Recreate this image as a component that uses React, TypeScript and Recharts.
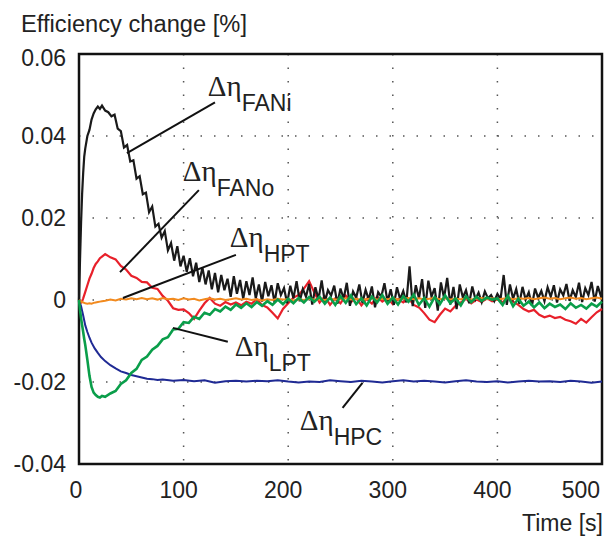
import React from "react";
import {
  LineChart, Line, XAxis, YAxis, CartesianGrid,
  ReferenceLine, ReferenceDot, ReferenceArea,
} from "recharts";

const FONT = "'Liberation Sans', Arial, sans-serif";
const SERIF = "'Liberation Serif', 'Times New Roman', serif";

// time axis for the red / orange / green traces [s]
const tNoisy = [
  0, 1, 2, 3, 4, 5, 6, 8, 10, 12, 14, 16, 18, 20, 22,
  25, 30, 35, 40, 45, 50, 55, 60, 65, 70,
  75, 80, 85, 90, 95, 100, 105, 110, 115, 120,
  125, 130, 135, 140, 145, 150, 155, 160, 165, 170,
  175, 180, 185, 190, 195, 200, 205, 210, 215, 220,
  225, 230, 235, 240, 245, 250, 255, 260, 265, 270,
  275, 280, 285, 290, 295, 300, 305, 310, 315, 320,
  325, 330, 335, 340, 345, 350, 355, 360, 365, 370,
  375, 380, 385, 390, 395, 400, 405, 410, 415, 420,
  425, 430, 435, 440, 445, 450, 455, 460, 465, 470,
  475, 480, 485, 490, 495, 500,
];

// FANi is the noisiest trace, sampled more densely
const tFani = [
  0, 1, 2, 3, 4, 5, 6, 8, 10, 12, 14, 16, 18, 20, 22,
  25, 28, 31, 34, 37, 40, 43, 46, 49, 52, 55, 58, 61, 64, 67, 70,
  73, 76, 79, 82, 85, 88, 91, 94, 97, 100, 103, 106, 109, 112, 115, 118,
  121, 124, 127, 130, 133, 136, 139, 142, 145, 148, 151, 154, 157, 160,
  163, 166, 169, 172, 175, 178, 181, 184, 187, 190, 193, 196, 199, 202,
  205, 208, 211, 214, 217, 220, 223, 226, 229, 232, 235, 238, 241, 244,
  247, 250, 253, 256, 259, 262, 265, 268, 271, 274, 277, 280, 283, 286,
  289, 292, 295, 298, 301, 304, 307, 310, 313, 316, 319, 322, 325, 328,
  331, 334, 337, 340, 343, 346, 349, 352, 355, 358, 361, 364, 367, 370,
  373, 376, 379, 382, 385, 388, 391, 394, 397, 400, 403, 406, 409, 412,
  415, 418, 421, 424, 427, 430, 433, 436, 439, 442, 445, 448, 451, 454,
  457, 460, 463, 466, 469, 472, 475, 478, 481, 484, 487, 490, 493, 496,
  499, 500,
];

const fani = [
  0, 0.010, 0.019, 0.026, 0.031, 0.035, 0.037, 0.040, 0.0415, 0.044, 0.0455, 0.0465, 0.0472, 0.0466, 0.0474,
  0.0462, 0.0458, 0.0448, 0.0452, 0.0418, 0.0412, 0.0372, 0.0378, 0.0338, 0.0341, 0.0296, 0.0302, 0.0258, 0.0262, 0.0214, 0.0228,
  0.0179, 0.0186, 0.0152, 0.0168, 0.0121, 0.0139, 0.0096, 0.0131, 0.0082, 0.0108, 0.0069, 0.0102, 0.0058, 0.0091, 0.0044, 0.0079,
  0.0038, 0.0072, 0.0026, 0.0066, 0.0019, 0.0061, 0.0024, 0.0052, 0.0008, 0.0058, 0.0015, 0.0049, 0.0003, 0.0046,
  0.0012, 0.0055, 0.0004, 0.0038, -0.0004, 0.0044, 0.0009, 0.0036, -0.0006, 0.0041, 0.0012, 0.0029, -0.0008, 0.0035,
  0.0004, 0.0046, -0.0003, 0.0027, 0.0008, 0.0039, -0.0011, 0.0031, 0.0002, 0.0048, -0.0005, 0.0024, 0.0011, 0.0035,
  -0.0009, 0.0028, 0.0003, 0.0042, -0.0014, 0.0021, 0.0006, 0.0038, -0.0007, 0.0025, 0.0001, 0.0033, -0.0018, 0.0019,
  0.0008, 0.0041, -0.0004, 0.0026, -0.0012, 0.0031, 0.0002, 0.0022, -0.0006, 0.0082, -0.0015, 0.0036, 0.0004, 0.0051,
  -0.0019, 0.0047, 0.0008, 0.0029, -0.0026, 0.0043, 0.0005, 0.0054, -0.0011, 0.0032, -0.0022, 0.0038, 0.0006, 0.0024,
  -0.0008, 0.0033, 0.0002, 0.0018, -0.0005, 0.0021, 0.0004, 0.0012, -0.0003, 0.0015, 0.0002, 0.0061, -0.0012, 0.0038,
  0.0003, 0.0027, -0.0009, 0.0032, 0.0001, 0.0019, -0.0014, 0.0028, 0.0005, 0.0022, -0.0003, 0.0031, 0.0008, 0.0036,
  -0.0006, 0.0026, 0.0011, 0.0039, -0.0002, 0.0024, 0.0007, 0.0042, -0.0005, 0.0029, 0.0012, 0.0044, -0.0004, 0.0034,
  0.0009, 0.0021,
];

const fano = [
  0, -0.0004, -0.0006, -0.0003, 0.0004, 0.0012, 0.002, 0.0036, 0.0052, 0.0064, 0.0078, 0.0088, 0.0094, 0.0102, 0.0106,
  0.0112, 0.0104, 0.0099, 0.0083, 0.0074, 0.0059, 0.0054, 0.0044, 0.0043, 0.0030,
  0.0027, 0.0010, -0.0002, -0.0020, -0.0024, -0.0023, -0.0032, -0.0046, -0.0026, -0.0008,
  0.0005, -0.0009, -0.0014, -0.0005, -0.0011, -0.0006, -0.0013, -0.0004, -0.0009, 0.0002,
  -0.0012, -0.0018, -0.0031, -0.0045, -0.0022, -0.0008, 0.0006, 0.0012, 0.0028, 0.0046,
  0.0018, -0.0006, 0.0009, -0.0012, 0.0004, -0.0008, 0.0011, -0.0005, 0.0006, -0.0013,
  0.0003, -0.0009, 0.0008, -0.0004, 0.0005, -0.0010, 0.0002, -0.0006, 0.0004, -0.0012,
  -0.0018, -0.0032, -0.0048, -0.0054, -0.0036, -0.0021, -0.0028, -0.0014, -0.0006, 0.0003,
  -0.0008, 0.0001, -0.0005, 0.0004, -0.0003, 0.0002, -0.0006, 0.0008, -0.0004, -0.0012,
  -0.0022, -0.0028, -0.0024, -0.0036, -0.0042, -0.0038, -0.0044, -0.0041, -0.0048, -0.0052,
  -0.0058, -0.0046, -0.0055, -0.0042, -0.0030, -0.0022,
];

const hpt = [
  0, -0.0002, -0.0003, -0.0005, -0.0006, -0.0007, -0.0008, -0.0009, -0.0008, -0.0009, -0.0007, -0.0006, -0.0005, -0.0004, -0.0003,
  -0.0002, 0.0001, -0.0001, 0.0003, 0.0001, 0.0004, 0.0002, 0.0005, 0.0002, 0.0004,
  0.0001, 0.0005, 0.0002, 0.0003, 0.0000, 0.0004, 0.0001, 0.0003, -0.0001, 0.0002,
  0.0004, 0.0001, 0.0003, 0.0000, 0.0002, 0.0004, 0.0001, 0.0003, 0.0000, 0.0002,
  -0.0001, 0.0002, 0.0000, 0.0003, 0.0001, 0.0002, -0.0001, 0.0002, 0.0000, 0.0003,
  0.0001, 0.0002, 0.0000, 0.0003, 0.0001, 0.0002, 0.0004, 0.0001, 0.0003, 0.0000,
  0.0002, 0.0004, 0.0001, 0.0003, 0.0002, 0.0004, 0.0001, 0.0003, 0.0005, 0.0002,
  0.0004, 0.0001, 0.0003, 0.0005, 0.0002, 0.0004, 0.0001, 0.0003, 0.0002, 0.0004,
  0.0001, 0.0003, 0.0005, 0.0002, 0.0004, 0.0001, 0.0003, 0.0005, 0.0002, 0.0004,
  0.0003, 0.0005, 0.0002, 0.0004, 0.0006, 0.0003, 0.0005, 0.0002, 0.0004, 0.0006,
  0.0003, 0.0005, 0.0002, 0.0004, 0.0006, 0.0003,
];

const lpt = [
  0, -0.0025, -0.0045, -0.0062, -0.0078, -0.0095, -0.011, -0.0146, -0.0185, -0.0212, -0.0226, -0.0232, -0.0236, -0.0238, -0.0234,
  -0.0236, -0.0228, -0.0222, -0.0205, -0.0196, -0.0178, -0.0168, -0.0146, -0.0138, -0.0121,
  -0.0112, -0.0096, -0.0091, -0.0072, -0.0070, -0.0054, -0.0056, -0.0041, -0.0046, -0.0031,
  -0.0036, -0.0022, -0.0028, -0.0016, -0.0024, -0.0011, -0.0019, -0.0008, -0.0017, -0.0005,
  -0.0014, -0.0003, -0.0012, 0.0001, -0.0010, 0.0003, -0.0008, 0.0005, -0.0006, 0.0007,
  -0.0004, 0.0008, -0.0009, 0.0006, -0.0012, 0.0009, -0.0007, 0.0011, -0.0010, 0.0004,
  -0.0013, 0.0008, -0.0006, 0.0012, -0.0009, 0.0006, -0.0011, 0.0009, -0.0004, 0.0013,
  -0.0012, 0.0005, -0.0016, 0.0007, -0.0010, 0.0011, -0.0008, 0.0004, -0.0013, 0.0009,
  -0.0005, 0.0008, -0.0002, 0.0006, 0.0001, 0.0004, -0.0012, 0.0010, -0.0015, 0.0003,
  -0.0014, -0.0004, -0.0018, -0.0006, -0.0020, -0.0009, -0.0017, -0.0011, -0.0022, -0.0008,
  -0.0019, -0.0012, -0.0021, -0.0009, -0.0016, -0.0004,
];

// HPC trace is smooth, sampled more coarsely
const tHpc = [
  0, 2, 4, 6, 8, 10, 12, 15, 18, 21, 25, 30, 35, 40, 45, 50, 55, 60, 65, 70, 75, 80,
  90, 100, 110, 120, 125, 130, 140, 150, 160, 170, 180, 190, 200, 210, 220, 230, 240,
  250, 260, 270, 280, 290, 300, 310, 320, 330, 340, 350, 360, 370, 380, 390, 400,
  410, 420, 430, 440, 450, 460, 470, 480, 490, 500,
];
const hpc = [
  0, -0.0015, -0.0038, -0.0062, -0.0078, -0.0092, -0.0104, -0.0118, -0.0129, -0.0139, -0.0149,
  -0.0159, -0.0167, -0.0174, -0.0178, -0.0183, -0.0186, -0.0189, -0.0192, -0.0193, -0.0195, -0.0194,
  -0.0197, -0.0195, -0.0198, -0.0196, -0.0199, -0.0202, -0.0198, -0.0197, -0.0199, -0.0197, -0.0198,
  -0.0196, -0.0199, -0.0201, -0.0199, -0.0200, -0.0196, -0.0198, -0.0200, -0.0197, -0.0199, -0.0201,
  -0.0198, -0.0196, -0.0199, -0.0197, -0.0199, -0.0201, -0.0198, -0.0196, -0.0199, -0.0200, -0.0198,
  -0.0201, -0.0199, -0.0197, -0.0199, -0.0198, -0.0200, -0.0197, -0.0199, -0.0202, -0.0199,
];

const xTicks = [0, 100, 200, 300, 400, 500];
const yTicks = [-0.04, -0.02, 0, 0.02, 0.04, 0.06];

// annotations: label anchor (start of "Δη", baseline) and leader line [from, to]
const notes = [
  { name: "FANi", at: [123.2, 0.0497], line: [[130, 0.0482], [45.8, 0.0358]] },
  { name: "FANo", at: [99.3, 0.0290], line: [[114.6, 0.0268], [39.2, 0.0068]] },
  { name: "HPT", at: [144.2, 0.0129], line: [[150, 0.011], [42, 0.0005]] },
  { name: "LPT", at: [149.0, -0.0136], line: [[142.3, -0.0102], [89.8, -0.0068]] },
  { name: "HPC", at: [211.1, -0.0317], line: [[252, -0.0263], [271, -0.0202]] },
];

const rows = tNoisy.map((t, i) => ({ t, fano: fano[i], hpt: hpt[i], lpt: lpt[i] }));
const faniRows = tFani.map((t, i) => ({ t, fani: fani[i] }));
const hpcRows = tHpc.map((t, i) => ({ t, hpc: hpc[i] }));

function XTick({ x, payload }: any) {
  const v = payload.value;
  const anchor = v === 500 ? "end" : "middle";
  const dx = v === 500 ? -2 : v === 0 ? -3 : -5;
  return (
    <text x={x + dx} y={498} textAnchor={anchor} fontSize={23} fontFamily={FONT} fill="#222">
      {v}
    </text>
  );
}

function YTick({ y, payload }: any) {
  const v = payload.value;
  return (
    <text x={66} y={y} dy={v === 0.06 ? 12 : 8} textAnchor="end" fontSize={23} fontFamily={FONT} fill="#222">
      {v === 0 ? "0" : v.toFixed(2)}
    </text>
  );
}

function NoteLabel({ cx, cy, name }: any) {
  return (
    <text x={cx} y={cy} fill="#222">
      <tspan fontFamily={SERIF} fontSize={29}>Δη</tspan>
      <tspan fontFamily={FONT} fontSize={23} dy={15}>{name}</tspan>
    </text>
  );
}

export default function App() {
  return (
    <div style={{ position: "absolute", left: 0, top: 0, background: "#fff" }}>
      <LineChart width={615} height={538} margin={{ top: 54, right: 13, bottom: 0, left: 0 }}>
        <CartesianGrid stroke="#555" strokeWidth={1.5} strokeDasharray="1.5 12" />
        <XAxis
          type="number" dataKey="t" domain={[0, 500]} ticks={xTicks}
          height={74} axisLine={false} tickLine={false} tick={<XTick />}
          label={{
            content: () => (
              <text x={603} y={531} textAnchor="end" fontSize={23} fontFamily={FONT} fill="#222">
                Time [s]
              </text>
            ),
          }}
        />
        <YAxis
          type="number" domain={[-0.04, 0.06]} ticks={yTicks}
          width={79} axisLine={false} tickLine={false} tick={<YTick />}
          label={{
            content: () => (
              <text x={21} y={32} fontSize={23} fontFamily={FONT} fill="#222"
                textLength={226} lengthAdjust="spacingAndGlyphs">
                Efficiency change [%]
              </text>
            ),
          }}
        />
        <Line data={hpcRows} dataKey="hpc" stroke="#1f2a94" strokeWidth={2} dot={false} isAnimationActive={false} />
        <Line data={rows} dataKey="fano" stroke="#e8202a" strokeWidth={2.2} dot={false} isAnimationActive={false} />
        <Line data={faniRows} dataKey="fani" stroke="#1a1a1a" strokeWidth={2.2} dot={false} isAnimationActive={false} />
        <Line data={rows} dataKey="hpt" stroke="#f28a1e" strokeWidth={2} dot={false} isAnimationActive={false} />
        <Line data={rows} dataKey="lpt" stroke="#0a9e4a" strokeWidth={2.6} dot={false} isAnimationActive={false} />
        {notes.map((n) => (
          <ReferenceLine
            key={`l-${n.name}`}
            segment={[{ x: n.line[0][0], y: n.line[0][1] }, { x: n.line[1][0], y: n.line[1][1] }]}
            stroke="#111" strokeWidth={2}
          />
        ))}
        {notes.map((n) => (
          <ReferenceDot
            key={`d-${n.name}`} x={n.at[0]} y={n.at[1]} r={0}
            shape={(p: any) => <NoteLabel cx={p.cx} cy={p.cy} name={n.name} />}
          />
        ))}
        <ReferenceArea x1={0} x2={500} y1={-0.04} y2={0.06} fill="none" stroke="#111" strokeWidth={2.5} fillOpacity={0} />
      </LineChart>
    </div>
  );
}
